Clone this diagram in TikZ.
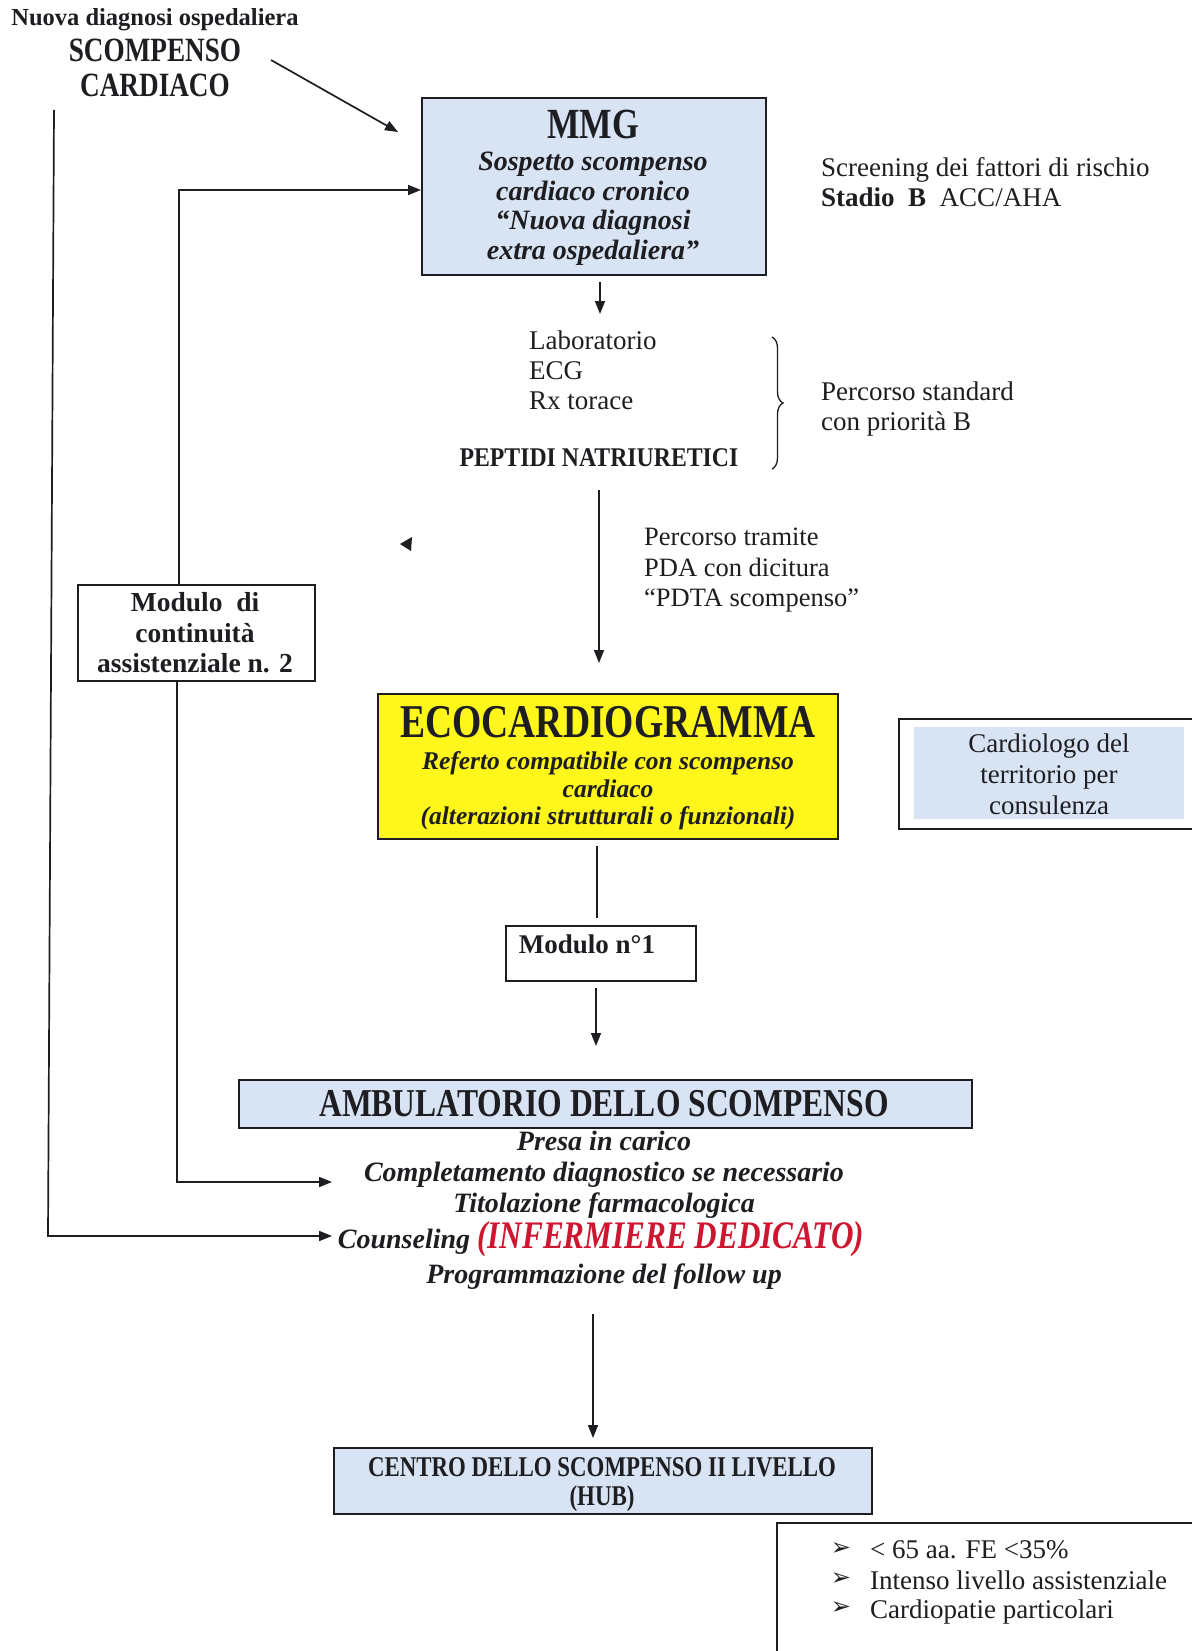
\documentclass[tikz,border=0pt]{standalone}
\usepackage{fontspec}
\setmainfont{Liberation Serif}
\newfontfamily\cond[FakeStretch=0.8]{Liberation Serif}
\newfontfamily\semicond[FakeStretch=0.88]{Liberation Serif}
\newfontfamily\symfont{DejaVu Sans}
\usetikzlibrary{arrows.meta,decorations.pathreplacing}
\definecolor{boxblue}{RGB}{216,228,243}
\definecolor{ecoyellow}{RGB}{255,246,28}
\definecolor{nursered}{RGB}{206,22,48}
\definecolor{ink}{RGB}{30,30,34}
\newcommand\fsz[2]{\fontsize{#1}{#2}\selectfont}
\begin{document}
\begin{tikzpicture}[x=1pt,y=-1pt,
  conn/.style={line width=1.7pt,draw=ink},
  arr/.style={conn,-{Triangle[length=13pt,width=10pt]}},
  box/.style={draw=ink,line width=1.8pt,inner sep=0pt,anchor=north west},
  txt/.style={inner sep=0pt,anchor=mid,text=ink},
  ltxt/.style={inner sep=0pt,anchor=mid west,text=ink},
  reg/.style={font=\fsz{27}{30}},
  bi/.style={font=\bfseries\itshape\fsz{28}{30}},
]
\useasboundingbox[fill=white] (0,0) rectangle (1191,1651);

% top text
\node[txt,font=\bfseries\fsz{24.5}{28}] (nd) at (155,23) {Nuova diagnosi ospedaliera};
\node[txt,font=\cond\bfseries\fsz{34}{36}] (sc1) at (155,59) {SCOMPENSO};
\node[txt,font=\cond\bfseries\fsz{34}{36}] (sc2) at (155,94) {CARDIACO};

% MMG box
\node[box,fill=boxblue,minimum width=344pt,minimum height=177pt] (mmg) at (421,97) {};
\node[txt,font=\cond\bfseries\fsz{43}{46}] (mmgt) at (593,136) {MMG};
\node[txt,bi] (mmg1) at (593,168) {Sospetto scompenso};
\node[txt,bi] (mmg2) at (593,198) {cardiaco cronico};
\node[txt,bi] (mmg3) at (593,227) {“Nuova diagnosi};
\node[txt,bi] (mmg4) at (593,257) {extra ospedaliera”};

\node[ltxt,reg] (scr1) at (821,174) {Screening dei fattori di rischio};
\node[ltxt,reg] (scr2) at (821,204) {\textbf{Stadio\ \ B}\ \ ACC/AHA};

% exams list
\node[ltxt,reg] (lab) at (529,347) {Laboratorio};
\node[ltxt,reg] (ecg) at (529,377) {ECG};
\node[ltxt,reg] (rx) at (529,407) {Rx torace};
\node[txt,font=\semicond\bfseries\fsz{27}{29}] (pep) at (599,464) {PEPTIDI NATRIURETICI};
\draw[line width=1.3pt,draw=ink,decorate,decoration={brace,amplitude=11pt}] (772,337) -- (772,469);
\node[ltxt,reg] (ps1) at (821,398) {Percorso standard};
\node[ltxt,reg] (ps2) at (821,428) {con priorità B};

\node[ltxt,font=\fsz{26.5}{30}] (pt1) at (644,543) {Percorso tramite};
\node[ltxt,font=\fsz{26.5}{30}] (pt2) at (644,574) {PDA con dicitura};
\node[ltxt,font=\fsz{26.5}{30}] (pt3) at (644,604) {“PDTA scompenso”};

% stray arrowhead
\fill[ink] (400,544) -- (412,537) -- (411,551) -- cycle;

% Modulo continuita
\node[box,minimum width=237pt,minimum height=96pt] (modc) at (77,584) {};
\node[txt,font=\bfseries\fsz{27.5}{30}] (mc1) at (195,609) {Modulo\ \ di};
\node[txt,font=\bfseries\fsz{27.5}{30}] (mc2) at (195,640) {continuità};
\node[txt,font=\bfseries\fsz{27.5}{30}] (mc3) at (195,670) {assistenziale n. 2};

% ECO box
\node[box,fill=ecoyellow,minimum width=460pt,minimum height=145pt] (eco) at (377,693) {};
\node[txt,font=\cond\bfseries\fsz{47}{50}] (ecot) at (608,735) {ECOCARDIOGRAMMA};
\node[txt,font=\bfseries\itshape\fsz{25.5}{28}] (eco1) at (608,767) {Referto compatibile con scompenso};
\node[txt,font=\bfseries\itshape\fsz{25.5}{28}] (eco2) at (608,795) {cardiaco};
\node[txt,font=\bfseries\itshape\fsz{25.5}{28}] (eco3) at (608,822) {(alterazioni strutturali o funzionali)};

% Cardiologo box
\draw[conn] (1195,719) -| (899,829) -- (1195,829);
\node[inner sep=0pt,anchor=north west,fill=boxblue,minimum width=270pt,minimum height=92pt] (card) at (914,727) {};
\node[txt,reg] (cd1) at (1049,750) {Cardiologo del};
\node[txt,reg] (cd2) at (1049,781) {territorio per};
\node[txt,reg] (cd3) at (1049,812) {consulenza};

% Modulo n1
\node[box,minimum width=190pt,minimum height=55pt] (modn) at (505,925) {};
\node[txt,font=\bfseries\fsz{27}{30}] (mn) at (587,951) {Modulo n°1};

% Ambulatorio
\node[box,fill=boxblue,minimum width=733pt,minimum height=48pt] (amb) at (238,1079) {};
\node[txt,font=\cond\bfseries\fsz{39.5}{42}] (ambt) at (604,1114) {AMBULATORIO DELLO SCOMPENSO};
\node[txt,bi] (a1) at (604,1148) {Presa in carico};
\node[txt,bi] (a2) at (604,1179) {Completamento diagnostico se necessario};
\node[txt,bi] (a3) at (604,1210) {Titolazione farmacologica};
\node[txt,bi] (a4) at (601,1246) {Counseling {\cond\fsz{39}{40}\color{nursered}(INFERMIERE DEDICATO)}};
\node[txt,bi] (a5) at (604,1281) {Programmazione del follow up};

% Centro
\node[box,fill=boxblue,minimum width=538pt,minimum height=66pt] (cen) at (333,1447) {};
\node[txt,font=\cond\bfseries\fsz{28.6}{30}] (cen1) at (602,1474) {CENTRO DELLO SCOMPENSO II LIVELLO};
\node[txt,font=\cond\bfseries\fsz{28.6}{30}] (cen2) at (602,1503) {(HUB)};

% bullet box
\draw[conn] (1195,1523) -| (777,1655);
\node[txt,font=\symfont\fsz{24}{26}] (b1a) at (841,1553) {➢};
\node[txt,font=\symfont\fsz{24}{26}] (b2a) at (841,1583) {➢};
\node[txt,font=\symfont\fsz{24}{26}] (b3a) at (841,1612) {➢};
\node[ltxt,reg] (b1) at (870,1556) {< 65 aa. FE <35\%};
\node[ltxt,reg] (b2) at (870,1587) {Intenso livello assistenziale};
\node[ltxt,reg] (b3) at (870,1616) {Cardiopatie particolari};

% connectors
\coordinate (s1) at (271,60);
\coordinate (s2) at (398,132);
\draw[arr] (s1) -- (s2);
\coordinate (m1) at (600,282);
\coordinate (m2) at (600,314);
\draw[arr] (m1) -- (m2);
\coordinate (p1) at (599,490);
\coordinate (p2) at (599,663);
\draw[arr] (p1) -- (p2);
\coordinate (e1) at (597,846);
\coordinate (e2) at (597,918);
\draw[conn] (e1) -- (e2);
\coordinate (n1) at (596,988);
\coordinate (n2) at (596,1046);
\draw[arr] (n1) -- (n2);
\coordinate (f1) at (593,1314);
\coordinate (f2) at (593,1438);
\draw[arr] (f1) -- (f2);

\coordinate (mtop) at (179,190);
\draw[arr] (modc.north -| mtop) -- (mtop) -- (mmg.west |- mtop);
\coordinate (mbot) at (177,1182);
\coordinate (ain) at (332,1182);
\draw[arr] (modc.south -| mbot) -- (mbot) -- (ain);
\coordinate (ltop) at (54,110);
\coordinate (lcorner) at (48,1236);
\coordinate (cin) at (332,1236);
\draw[arr] (ltop) -- (lcorner) -- (cin);
\end{tikzpicture}
\end{document}
